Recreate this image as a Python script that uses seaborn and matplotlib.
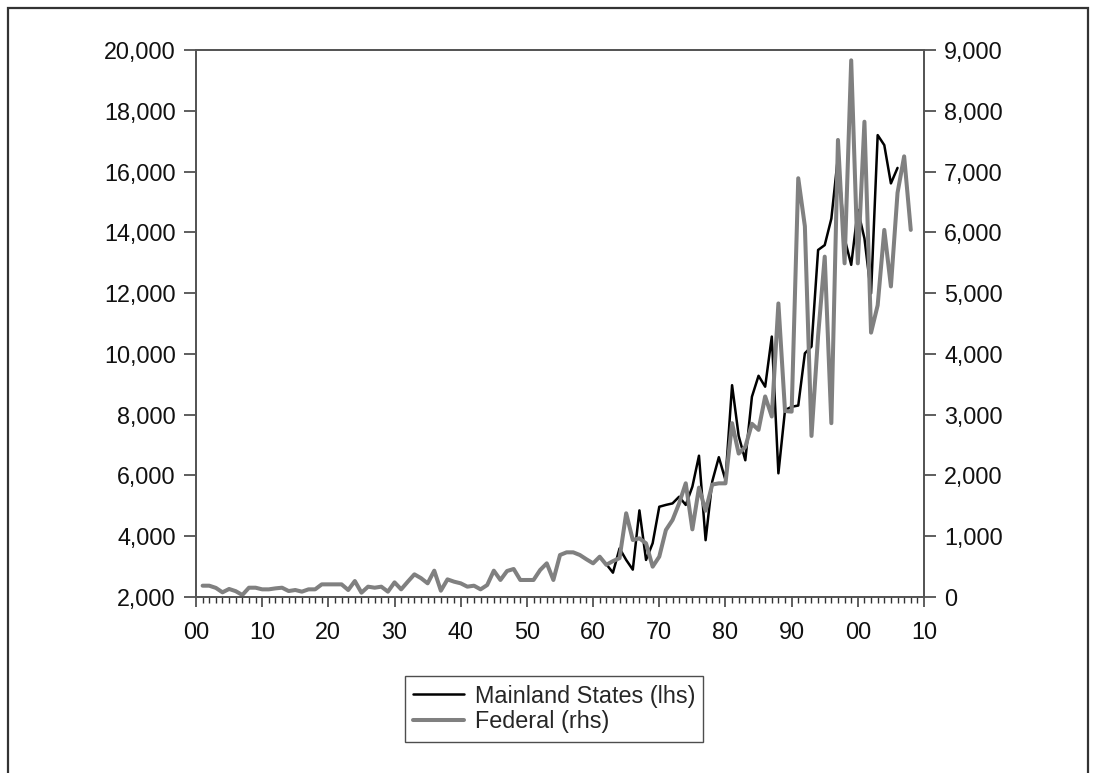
import matplotlib
matplotlib.use("Agg")
import matplotlib.pyplot as plt
import seaborn as sns
import pandas as pd
from matplotlib.ticker import MultipleLocator, FuncFormatter
from matplotlib.patches import Rectangle

# ---- data -------------------------------------------------------------
federal_years = list(range(1901, 2009))
federal_values = [
    186, 186, 150, 77, 132, 96, 33, 153, 153, 126,      # 1901-1910
    126, 142, 153, 98, 115, 88, 126, 126, 208, 208,     # 1911-1920
    208, 208, 115, 263, 71, 170, 153, 170, 88, 241,     # 1921-1930
    126, 252, 373, 310, 225, 433, 104, 290, 252, 225,   # 1931-1940
    170, 186, 126, 197, 433, 280, 428, 461, 280, 280,   # 1941-1950
    280, 444, 554, 280, 691, 735, 735, 691, 620, 554,   # 1951-1960
    663, 530, 590, 640, 1377, 938, 965, 883, 499, 664,  # 1961-1970
    1102, 1267, 1541, 1871, 1113, 1800, 1420, 1850, 1870, 1870,  # 1971-1980
    2860, 2360, 2470, 2850, 2750, 3300, 2970, 4830, 3060, 3050,  # 1981-1990
    6890, 6100, 2650, 4300, 5600, 2860, 7520, 5490, 8830, 5490,  # 1991-2000
    7820, 4350, 4800, 6040, 5110, 6650, 7250, 6040,              # 2001-2008
]

mainland_years = list(range(1962, 2007))
mainland_values = [
    3080, 2800, 3600, 3220, 2900, 4850, 3220, 3770, 4970,         # 1962-1970
    5030, 5080, 5300, 5030, 5630, 6650, 3870, 5800, 6600, 5850,   # 1971-1980
    8970, 7300, 6500, 8590, 9280, 8920, 10570, 6070, 8150, 8260,  # 1981-1990
    8300, 10020, 10240, 13420, 13580, 14450, 16490, 13800, 12930, 14740,  # 1991-2000
    13800, 11990, 17200, 16870, 15610, 16120,                     # 2001-2006
]

series_labels = ["Mainland States (lhs)", "Federal (rhs)"]
left_ticks = list(range(2000, 20001, 2000))
right_ticks = list(range(0, 9001, 1000))
x_ticks = list(range(1900, 2011, 10))

df_fed = pd.DataFrame({"year": federal_years, "value": federal_values})
df_main = pd.DataFrame({"year": mainland_years, "value": mainland_values})

# ---- style ------------------------------------------------------------
sns.set_style("white")
plt.rcParams["font.family"] = ["Liberation Sans", "DejaVu Sans"]

FS = 16.8
fig = plt.figure(figsize=(10.96, 7.73), dpi=100)
ax = fig.add_axes([196 / 1096, 1 - 597 / 773, (924 - 196) / 1096, (597 - 50) / 773])
ax2 = ax.twinx()

sns.lineplot(data=df_main, x="year", y="value", ax=ax, color="black",
             linewidth=1.8, legend=False)
sns.lineplot(data=df_fed, x="year", y="value", ax=ax2, color="#808080",
             linewidth=2.9, legend=False)

ax.set_xlim(1900, 2010)
ax.set_ylim(2000, 20000)
ax2.set_ylim(0, 9000)

ax.set_xticks(x_ticks)
ax.xaxis.set_minor_locator(MultipleLocator(1))
ax.xaxis.set_major_formatter(FuncFormatter(lambda v, p: f"{int(round(v)) % 100:02d}"))
ax.set_yticks(left_ticks)
ax2.set_yticks(right_ticks)
ax.yaxis.set_major_formatter(FuncFormatter(lambda v, p: f"{int(v):,}"))
ax2.yaxis.set_major_formatter(FuncFormatter(lambda v, p: f"{int(v):,}"))

for a in (ax, ax2):
    a.set_xlabel("")
    a.set_ylabel("")
    for s in a.spines.values():
        s.set_color("#555555")
        s.set_linewidth(1.3)

ax.tick_params(axis="y", which="major", direction="out", length=8.5, width=1.1,
               color="#333333", labelsize=FS, pad=6, left=True, labelcolor="#111111")
ax2.tick_params(axis="y", which="major", direction="out", length=8.5, width=1.1,
                color="#333333", labelsize=FS, pad=6, right=True, labelcolor="#111111")
ax.tick_params(axis="x", which="major", direction="out", length=7, width=1.1,
               color="#333333", labelsize=FS, pad=10, bottom=True, labelcolor="#111111")
ax.tick_params(axis="x", which="minor", direction="out", length=4, width=1.0,
               color="#333333", bottom=True)

handles = [ax.get_lines()[0], ax2.get_lines()[0]]
leg = fig.legend(handles, series_labels, loc="center", bbox_to_anchor=(554 / 1096, 1 - 709 / 773),
                 fontsize=FS, frameon=True, fancybox=False, edgecolor="#222222",
                 handlelength=2.2, handletextpad=0.45, borderpad=0.35, labelspacing=0.12,
                 borderaxespad=0)
leg.get_frame().set_linewidth(1.0)

# outer frame around the figure
fig.patches.append(Rectangle((8 / 1096, -0.05), (1088 - 8) / 1096, 1.05 - 8 / 773,
                             transform=fig.transFigure, fill=False,
                             edgecolor="#333333", linewidth=1.6))

fig.savefig("out.png", dpi=100)
